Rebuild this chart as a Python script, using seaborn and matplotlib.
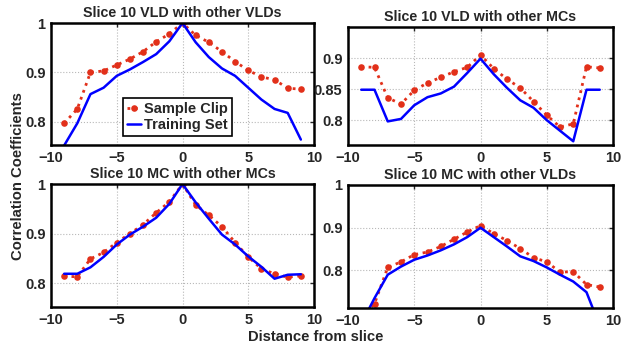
import numpy as np
import pandas as pd
import seaborn as sns
import matplotlib.pyplot as plt

# distances from slice 10
distance = list(range(-9, 10))

# Slice 10 VLD with other VLDs
vld_vld_clip = [0.797, 0.826, 0.900, 0.903, 0.915, 0.927, 0.942, 0.962, 0.978, 1.000,
                0.975, 0.961, 0.942, 0.922, 0.904, 0.891, 0.885, 0.868, 0.866]
vld_vld_train = [0.752, 0.797, 0.856, 0.869, 0.893, 0.906, 0.921, 0.937, 0.963, 1.000,
                 0.961, 0.931, 0.908, 0.893, 0.869, 0.845, 0.826, 0.818, 0.764]

# Slice 10 VLD with other MCs
vld_mc_clip = [0.886, 0.885, 0.836, 0.826, 0.848, 0.860, 0.869, 0.878, 0.885, 0.905,
               0.883, 0.866, 0.852, 0.830, 0.808, 0.789, 0.794, 0.886, 0.884]
vld_mc_train = [0.849, 0.849, 0.798, 0.802, 0.824, 0.837, 0.843, 0.854, 0.876, 0.899,
                0.874, 0.852, 0.832, 0.820, 0.800, 0.783, 0.766, 0.849, 0.849]

# Slice 10 MC with other MCs
mc_mc_clip = [0.814, 0.813, 0.849, 0.862, 0.882, 0.900, 0.918, 0.942, 0.964, 1.000,
              0.958, 0.937, 0.914, 0.882, 0.853, 0.829, 0.819, 0.812, 0.815]
mc_mc_train = [0.819, 0.819, 0.832, 0.853, 0.878, 0.898, 0.914, 0.932, 0.960, 1.000,
               0.963, 0.930, 0.898, 0.878, 0.854, 0.833, 0.809, 0.817, 0.818]

# Slice 10 MC with other VLDs
mc_vld_clip = [0.690, 0.722, 0.807, 0.820, 0.837, 0.843, 0.856, 0.873, 0.890, 0.905,
               0.886, 0.870, 0.851, 0.830, 0.820, 0.796, 0.797, 0.767, 0.761]
mc_vld_train = [0.675, 0.735, 0.790, 0.809, 0.825, 0.835, 0.847, 0.861, 0.878, 0.900,
                0.878, 0.856, 0.833, 0.822, 0.807, 0.790, 0.774, 0.749, 0.670]

titles = ["Slice 10 VLD with other VLDs", "Slice 10 VLD with other MCs",
          "Slice 10 MC with other MCs", "Slice 10 MC with other VLDs"]
clips = [vld_vld_clip, vld_mc_clip, mc_mc_clip, mc_vld_clip]
trains = [vld_vld_train, vld_mc_train, mc_mc_train, mc_vld_train]
ylims = [(0.753, 1.0), (0.76, 0.95), (0.752, 1.0), (0.712, 1.0)]
yticks = [[0.8, 0.9, 1.0], [0.8, 0.85, 0.9], [0.8, 0.9, 1.0], [0.8, 0.9, 1.0]]
yticklabels = [["0.8", "0.9", "1"], ["0.8", "0.85", "0.9"],
               ["0.8", "0.9", "1"], ["0.8", "0.9", "1"]]

RED = "#e2301a"
BLUE = "#0000ff"

sns.set_style("white")
plt.rcParams["font.family"] = ["Liberation Sans", "DejaVu Sans"]
plt.rcParams["font.weight"] = "bold"

fig = plt.figure(figsize=(6.32, 3.49), dpi=100)
boxes = [
    [51 / 632, 1 - 145 / 349, 263 / 632, 122 / 349],
    [348 / 632, 1 - 145 / 349, 265 / 632, 118 / 349],
    [51 / 632, 1 - 307 / 349, 263 / 632, 123 / 349],
    [348 / 632, 1 - 308 / 349, 265 / 632, 123 / 349],
]

for i in range(4):
    ax = fig.add_axes(boxes[i])
    df = pd.DataFrame({"d": distance, "clip": clips[i], "train": trains[i]})
    sns.lineplot(data=df, x="d", y="clip", ax=ax, color=RED, linestyle=":",
                 linewidth=2, marker=".", markersize=9.5, markeredgewidth=0,
                 label="Sample Clip")
    sns.lineplot(data=df, x="d", y="train", ax=ax, color=BLUE, linestyle="-",
                 linewidth=1.8, label="Training Set")
    ax.set_xlim(-10, 10)
    ax.set_ylim(*ylims[i])
    ax.set_xticks([-10, -5, 0, 5, 10])
    ax.set_xticklabels(["\u221210", "\u22125", "0", "5", "10"])
    ax.set_yticks(yticks[i])
    ax.set_yticklabels(yticklabels[i])
    ax.grid(True, color="#b8b8b8", linestyle=":", linewidth=0.8)
    for s in ax.spines.values():
        s.set_linewidth(1.8)
        s.set_color("black")
    ax.tick_params(direction="in", top=True, right=True, length=3, width=1,
                   labelsize=10.5, pad=4)
    for lab in ax.get_xticklabels() + ax.get_yticklabels():
        lab.set_fontweight("bold")
    ax.set_title(titles[i], fontsize=10.3, fontweight="bold", pad=4)
    ax.set_xlabel("")
    ax.set_ylabel("")
    if i == 0:
        leg = ax.legend(loc="lower left", bbox_to_anchor=(0.274, 0.074),
                        borderaxespad=0, frameon=True, fancybox=False,
                        handlelength=1.0, handletextpad=0.2, borderpad=0.25,
                        labelspacing=0.15,
                        prop={"weight": "bold", "size": 10.5})
        leg.get_frame().set_edgecolor("black")
        leg.get_frame().set_linewidth(1.2)
        leg.get_frame().set_alpha(1)
    else:
        ax.get_legend().remove()

fig.text(18 / 632, 1 - 176 / 349, "Correlation Coefficients", rotation=90,
         ha="center", va="center", fontsize=10.7, fontweight="bold")
fig.text(316 / 632, 1 - 337 / 349, "Distance from slice", ha="center",
         va="center", fontsize=10.6, fontweight="bold")

fig.savefig("out.png", dpi=100)
